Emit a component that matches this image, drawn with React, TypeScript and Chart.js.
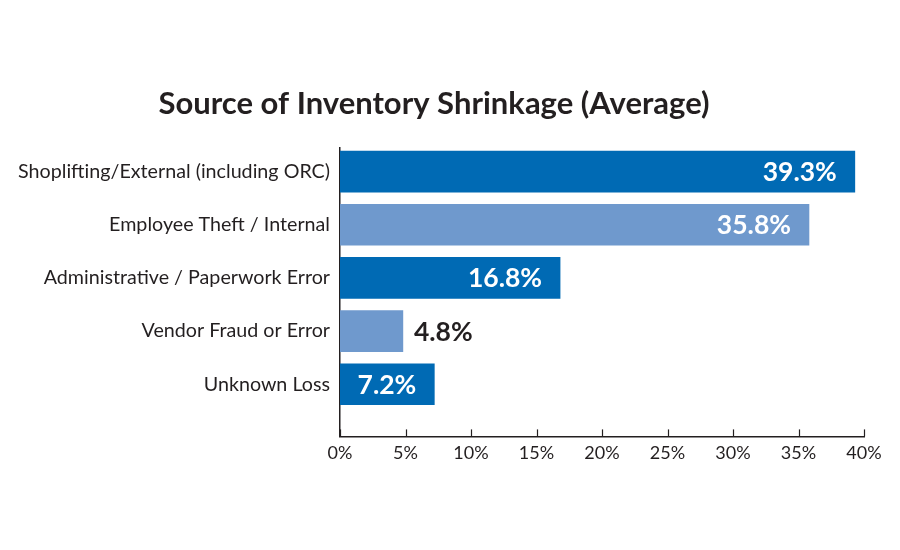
import React, { useEffect, useRef } from "react";
import { Chart, registerables } from "chart.js";

Chart.register(...registerables);

const categories = [
  "Shoplifting/External (including ORC)",
  "Employee Theft / Internal",
  "Administrative / Paperwork Error",
  "Vendor Fraud or Error",
  "Unknown Loss",
];
const values = [39.3, 35.8, 16.8, 4.8, 7.2];
const barColors = ["#006ab4", "#6f99cd", "#006ab4", "#6f99cd", "#006ab4"];
const xTicks = [0, 5, 10, 15, 20, 25, 30, 35, 40];
const titleText = "Source of Inventory Shrinkage (Average)";

const FONT = "Lato, 'Open Sans', sans-serif";
const DARK = "#231f20";

const tickMarksPlugin = {
  id: "tickMarks",
  afterDraw(chart: any) {
    const xs = chart.scales.x;
    const ctx = chart.ctx;
    const bottom = chart.chartArea.bottom;
    ctx.save();
    ctx.strokeStyle = DARK;
    ctx.lineWidth = 1.2;
    xs.ticks.forEach((t: any) => {
      const px = Math.round(xs.getPixelForValue(t.value)) + 0.5;
      ctx.beginPath();
      ctx.moveTo(px, bottom);
      ctx.lineTo(px, bottom - 7);
      ctx.stroke();
    });
    ctx.restore();
  },
};

const valueLabelPlugin = {
  id: "valueLabels",
  afterDatasetsDraw(chart: any) {
    const ctx = chart.ctx;
    const meta = chart.getDatasetMeta(0);
    const xs = chart.scales.x;
    const zero = xs.getPixelForValue(0);
    ctx.save();
    ctx.font = `bold 26.5px ${FONT}`;
    ctx.textBaseline = "middle";
    meta.data.forEach((bar: any, i: number) => {
      const text = values[i].toFixed(1) + "%";
      const w = ctx.measureText(text).width;
      const barW = bar.x - zero;
      if (barW > w + 24) {
        ctx.fillStyle = "#ffffff";
        ctx.textAlign = "right";
        ctx.fillText(text, bar.x - 18, bar.y + 1);
      } else {
        ctx.fillStyle = DARK;
        ctx.textAlign = "left";
        ctx.fillText(text, bar.x + 11, bar.y + 1);
      }
    });
    ctx.restore();
  },
};

export default function App() {
  const ref = useRef<HTMLCanvasElement | null>(null);
  useEffect(() => {
    document.body.style.margin = "0";
    const c = ref.current!;
    const chart = new Chart(c, {
      type: "bar",
      data: {
        datasets: [
          {
            data: values.map((v, i) => ({ x: v, y: i })),
            backgroundColor: barColors,
            barThickness: 41,
            borderWidth: 0,
          },
        ],
      },
      options: {
        indexAxis: "y",
        animation: false,
        responsive: false,
        maintainAspectRatio: false,
        layout: { padding: { left: 4, right: 36, top: 0, bottom: 80 } },
        plugins: {
          legend: { display: false },
          tooltip: { enabled: false },
          title: {
            display: true,
            text: titleText,
            color: DARK,
            font: { family: FONT, size: 31, weight: "bold", lineHeight: 1.2 },
            padding: { top: 85, bottom: 26 },
          },
        },
        scales: {
          x: {
            type: "linear",
            min: 0,
            max: 40,
            afterBuildTicks: (s: any) => {
              s.ticks = xTicks.map((v) => ({ value: v }));
            },
            afterFit: (s: any) => {
              s.paddingLeft = 0;
              s.paddingRight = 0;
            },
            grid: { display: false, drawTicks: false },
            border: { display: true, color: DARK, width: 1.5 },
            ticks: {
              color: DARK,
              padding: 6,
              font: { family: FONT, size: 18 },
              callback: (v: any) => v + "%",
              maxRotation: 0,
              autoSkip: false,
            },
          },
          y: {
            type: "linear",
            reverse: true,
            offset: false,
            min: -0.44,
            max: 4.98,
            afterBuildTicks: (s: any) => {
              s.ticks = categories.map((_, i) => ({ value: i }));
            },
            afterFit: (s: any) => {
              s.width = 336;
            },
            grid: { display: false, drawTicks: false, offset: false },
            border: { display: true, color: DARK, width: 1.5 },
            ticks: {
              color: DARK,
              padding: 10,
              font: { family: FONT, size: 19.7 },
              autoSkip: false,
              callback: (v: any) => categories[v] ?? "",
            },
          },
        },
      },
      plugins: [tickMarksPlugin, valueLabelPlugin],
    });
    return () => chart.destroy();
  }, []);
  return (
    <div style={{ width: 900, height: 550, background: "#ffffff" }}>
      <canvas ref={ref} width={900} height={550} />
    </div>
  );
}
